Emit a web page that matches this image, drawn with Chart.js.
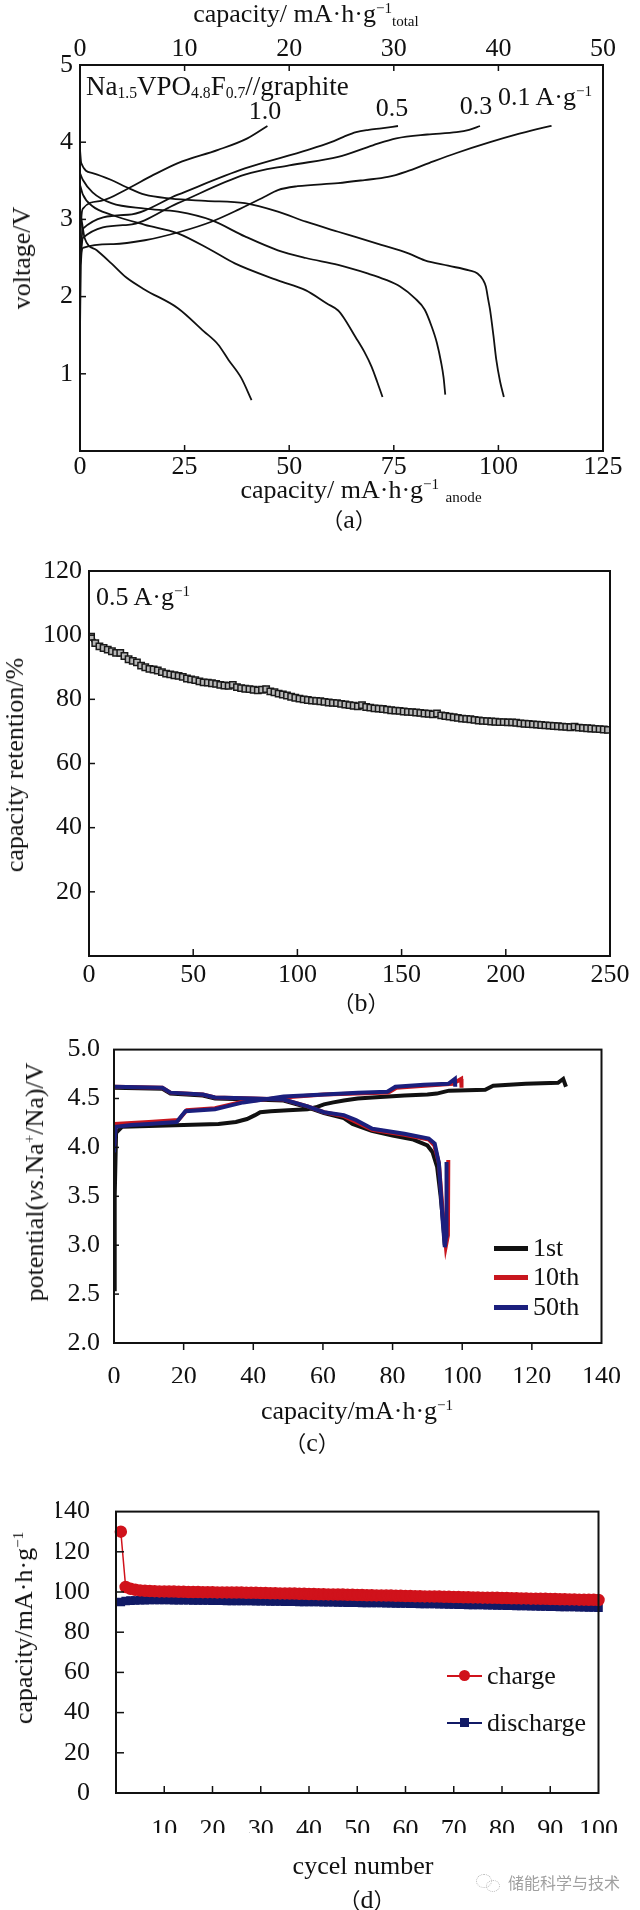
<!DOCTYPE html>
<html>
<head>
<meta charset="utf-8">
<script src="https://cdn.jsdelivr.net/npm/chart.js@4.4.1/dist/chart.umd.min.js"></script>
<style>
  body { margin: 0; background: #fff; }
  #page { position: relative; width: 640px; height: 1910px; overflow: hidden; background: #fff;
          font-family: 'Liberation Serif', 'Times New Roman', serif; color: #111; }
  .box { position: absolute; left: 0; width: 640px; }
  .t { position: absolute; white-space: nowrap; line-height: 1; font-size: 26px; transform: translate(-50%, -50%); }
  .tl { position: absolute; white-space: nowrap; line-height: 1; font-size: 26px; transform: translate(0, -50%); }
  .rot { transform: translate(-50%, -50%) rotate(-90deg); }
  sub { font-size: 58%; vertical-align: -0.25em; line-height: 0; }
  sup { font-size: 58%; vertical-align: 0.6em; line-height: 0; }
  .cn { font-family: 'Noto Sans CJK SC', sans-serif; font-size: 22px; }
  .leg { position: absolute; display: flex; align-items: center; white-space: nowrap; font-size: 26px; line-height: 1; transform: translate(0, -50%); }
  .swatch { position: relative; display: inline-block; width: 34px; margin-right: 5px; }
  .wm { position: absolute; left: 508px; top: 1882px; transform: translate(0, -50%); font-family: 'Noto Sans CJK SC', sans-serif;
        font-size: 16px; color: #a0a0a0; white-space: nowrap; }
</style>
</head>
<body>
<div id="page">
  <div class="box" style="top:0;height:530px"><canvas id="chartA"></canvas></div>
  <div class="box" style="top:540px;height:480px"><canvas id="chartB"></canvas></div>
  <div class="box" style="top:1020px;height:450px"><canvas id="chartC"></canvas></div>
  <div class="box" style="top:1470px;height:440px"><canvas id="chartD"></canvas></div>

  <!-- (a) texts -->
  <div class="t" style="left:306px;top:14px">capacity/ mA·h·g<sup>−1</sup><sub>total</sub></div>
  <div class="t rot" style="left:22px;top:258px">voltage/V</div>
  <div class="tl" style="left:86px;top:86px;font-size:27px">Na<sub>1.5</sub>VPO<sub>4.8</sub>F<sub>0.7</sub>//graphite</div>
  <div class="t" style="left:265px;top:111px">1.0</div>
  <div class="t" style="left:392px;top:108px">0.5</div>
  <div class="t" style="left:476px;top:106px">0.3</div>
  <div class="tl" style="left:498px;top:97px">0.1 A·g<sup>−1</sup></div>
  <div class="t" style="left:361px;top:490px">capacity/ mA·h·g<sup>−1</sup> <sub>anode</sub></div>
  <div class="t" style="left:349px;top:520px"><span class="cn">（</span>a<span class="cn">）</span></div>

  <!-- (b) texts -->
  <div class="t rot" style="left:15px;top:765px">capacity retention/%</div>
  <div class="tl" style="left:96px;top:597px">0.5 A·g<sup>−1</sup></div>
  <div class="t" style="left:361px;top:1003px"><span class="cn">（</span>b<span class="cn">）</span></div>

  <!-- (c) texts -->
  <div class="t rot" style="left:35px;top:1182px">potential(<i>vs</i>.Na<sup>+</sup>/Na)/V</div>
  <div class="t" style="left:357px;top:1411px">capacity/mA·h·g<sup>−1</sup></div>
  <div class="t" style="left:312px;top:1443px"><span class="cn">（</span>c<span class="cn">）</span></div>
  <div class="leg" style="left:494px;top:1248px"><span class="swatch" style="height:5px;background:#111"></span>1st</div>
  <div class="leg" style="left:494px;top:1277px"><span class="swatch" style="height:5px;background:#c8161e"></span>10th</div>
  <div class="leg" style="left:494px;top:1307px"><span class="swatch" style="height:5px;background:#1b1f7d"></span>50th</div>

  <!-- (d) texts -->
  <div class="t rot" style="left:24px;top:1628px">capacity/mA·h·g<sup>−1</sup></div>
  <div class="t" style="left:363px;top:1866px">cycel number</div>
  <div class="t" style="left:367px;top:1900px"><span class="cn">（</span>d<span class="cn">）</span></div>
  <div class="leg" style="left:447px;top:1676px">
    <span class="swatch" style="height:2px;background:#d0121b;width:35px">
      <span style="position:absolute;left:12px;top:-5px;width:11px;height:11px;border-radius:50%;background:#d0121b"></span>
    </span>charge</div>
  <div class="leg" style="left:447px;top:1723px">
    <span class="swatch" style="height:2px;background:#111a66;width:35px">
      <span style="position:absolute;left:13px;top:-4px;width:9px;height:9px;background:#111a66"></span>
    </span>discharge</div>
  <div style="position:absolute;left:476px;top:1874px;width:14px;height:12px;border:1.5px dotted #b8b8b8;border-radius:50%"></div>
  <div style="position:absolute;left:486px;top:1880px;width:12px;height:10px;border:1.5px dotted #b8b8b8;border-radius:50%"></div>
  <div class="wm">储能科学与技术</div>
</div>

<script>
// ---------- (a) full cell, rate test: [anode capacity, voltage] ----------
const charge10 = [[0,2.5],[0.3,3.0],[0.7,3.14],[5,3.24],[11.5,3.4],[17,3.56],[23.4,3.73],[33,3.9],[40,4.05],[44.8,4.21]];
const charge05 = [[0,2.45],[0.7,2.88],[11.5,3.06],[23.4,3.32],[39.4,3.66],[54.5,3.9],[60,4.0],[63,4.07],[66,4.13],[69,4.16],[72,4.18],[76,4.21]];
const charge03 = [[0,2.4],[0.7,2.76],[11.5,2.93],[23.4,3.21],[39.4,3.58],[50,3.7],[61.7,3.81],[70,3.96],[75.6,4.05],[83,4.1],[90,4.13],[93,4.16],[95.6,4.21]];
const charge01 = [[0,1.55],[0.2,2.4],[0.7,2.63],[8,2.68],[15.5,2.73],[24,2.84],[31.4,2.97],[38,3.13],[44,3.29],[47.3,3.38],[52,3.43],[61.7,3.47],[68,3.51],[73.6,3.55],[78,3.62],[83.4,3.73],[90,3.86],[98,4.0],[105,4.11],[110,4.18],[112.7,4.21]];
const discharge10 = [[0,3.1],[0.5,2.95],[1.1,2.76],[4,2.6],[7.5,2.43],[11,2.25],[15.5,2.09],[23.4,1.85],[29.6,1.55],[33,1.38],[35.5,1.18],[38.5,0.95],[41,0.66]];
const discharge05 = [[0,3.45],[0.7,3.32],[3,3.17],[7.5,3.06],[15.5,2.93],[23.4,2.82],[31.4,2.6],[37,2.43],[47.3,2.21],[54,2.08],[59,1.91],[61.7,1.82],[63,1.73],[65.8,1.48],[68,1.28],[69.7,1.09],[71,0.9],[72.3,0.7]];
const discharge03 = [[0,3.6],[0.7,3.51],[3,3.35],[7.5,3.21],[15.5,3.14],[23.4,3.1],[31.4,2.99],[39.4,2.78],[47.3,2.6],[54,2.5],[61.7,2.41],[68.7,2.3],[73,2.22],[76.5,2.13],[80,1.98],[82.4,1.83],[84,1.62],[85.3,1.4],[86.3,1.15],[86.9,0.95],[87.3,0.73]];
const discharge01 = [[0,3.9],[0.3,3.73],[3,3.6],[7.5,3.51],[11,3.42],[15.5,3.32],[21.8,3.27],[30,3.24],[39.4,3.21],[47.3,3.1],[54,2.97],[61.7,2.84],[66,2.77],[72,2.67],[78.5,2.56],[82.4,2.47],[88,2.4],[93,2.34],[95,2.3],[96.3,2.22],[97,2.13],[97.6,1.95],[98,1.83],[98.8,1.5],[99.5,1.18],[100.4,0.9],[101.3,0.7]];

// ---------- (b) capacity retention at 0.5 A/g (every second cycle) ----------
const retention = [
  99.5,97.5,96.5,96,95.5,95,94.5,94.5,93.5,92.5,92,91.5,90.5,90,89.5,89.3,89,88.5,88,87.8,
  87.5,87.3,87,86.5,86.2,86,85.6,85.3,85.2,85,84.8,84.5,84.3,84.2,84.5,83.8,83.5,83.3,83.2,83,
  82.8,83,83.2,82.5,82.2,81.8,81.5,81.2,80.8,80.5,80.2,80,79.8,79.6,79.5,79.4,79.2,79,78.9,78.8,
  78.6,78.4,78.2,78,77.8,78.2,77.6,77.4,77.2,77.1,77,76.8,76.6,76.5,76.4,76.2,76.1,76,75.9,75.8,
  75.6,75.5,75.3,75.6,75,74.8,74.6,74.4,74.2,74,73.9,73.8,73.6,73.4,73.3,73.2,73.1,73,72.9,72.9,
  72.8,72.8,72.7,72.5,72.4,72.3,72.2,72.1,72,71.9,71.8,71.7,71.6,71.5,71.4,71.3,71.5,71.2,71.1,71,
  70.9,70.8,70.7,70.6,70.5
];
const cyclesB = retention.map((_, i) => 1 + 2 * i);

// ---------- (c) cathode half cell: [capacity, potential] ----------
const charge1st = [[0,2.55],[0.2,3.5],[0.6,4.15],[2.3,4.21],[10,4.22],[20,4.23],[30,4.24],[35,4.26],[38.2,4.29],[40.5,4.33],[42,4.36],[45,4.37],[50,4.38],[55.6,4.39],[58,4.41],[60.3,4.44],[63,4.46],[66,4.48],[70,4.5],[74.2,4.51],[83.4,4.53],[90,4.54],[92.7,4.55],[95,4.57],[96.2,4.58],[106.6,4.59],[108.9,4.63],[118.2,4.65],[127.5,4.66],[129,4.7],[129.8,4.62]];
const charge10th = [[0,4.0],[0.5,4.24],[5,4.25],[10,4.26],[18.5,4.28],[20.9,4.38],[29,4.4],[32.4,4.43],[37.1,4.47],[43,4.49],[48.7,4.51],[60.3,4.54],[70,4.55],[78.8,4.56],[81.1,4.61],[89.2,4.63],[97.3,4.65],[99.7,4.7],[99.8,4.61]];
const charge50th = [[0,3.95],[0.5,4.21],[5,4.23],[10,4.24],[18,4.26],[20.5,4.37],[29,4.39],[32.4,4.42],[37.1,4.46],[43,4.49],[48.7,4.52],[60.3,4.54],[70,4.56],[78.5,4.57],[80.8,4.62],[89,4.64],[96,4.65],[97.9,4.7],[98,4.62]];
const discharge1st = [[0,4.61],[13.9,4.6],[16.2,4.55],[25.5,4.53],[29,4.5],[40,4.49],[48.7,4.48],[55.6,4.41],[60.3,4.35],[66,4.3],[68.5,4.24],[74,4.17],[80,4.12],[86,4.08],[90,4.02],[91.5,3.95],[92.8,3.8],[93.8,3.5],[94.6,3.2],[95,3.0]];
const discharge10th = [[0,4.62],[13.9,4.61],[16.2,4.56],[25.5,4.54],[29,4.51],[40,4.5],[48.7,4.49],[55.6,4.42],[60.3,4.36],[66,4.32],[69.5,4.26],[74.2,4.18],[83.4,4.13],[90.4,4.08],[92,4.02],[93.3,3.84],[94.5,3.3],[95.3,2.99],[95.9,3.1],[96,3.87]];
const discharge50th = [[0,4.62],[13.9,4.61],[16.2,4.56],[25.5,4.54],[29,4.51],[40,4.5],[48.7,4.49],[55.6,4.42],[60.3,4.36],[66,4.33],[69.5,4.28],[74.2,4.19],[83.4,4.14],[90.4,4.09],[92.1,4.04],[93.3,3.84],[94.4,3.24],[95,2.98],[95.4,3.1],[95.5,3.85]];

// ---------- (d) cycling, cycles 1..100 ----------
const chargeCap = [
  130,102.5,101.6,101.1,100.8,100.6,100.5,100.4,100.3,100.3,
  100.2,100.2,100.1,100.1,100.0,100.0,100.0,99.9,99.9,99.9,
  99.8,99.8,99.8,99.7,99.7,99.7,99.6,99.6,99.6,99.5,
  99.5,99.4,99.4,99.3,99.3,99.2,99.2,99.1,99.1,99.0,
  99.0,98.9,98.9,98.8,98.8,98.7,98.7,98.6,98.6,98.5,
  98.5,98.4,98.4,98.3,98.3,98.2,98.2,98.1,98.1,98.0,
  98.0,97.9,97.9,97.8,97.8,97.7,97.7,97.6,97.6,97.5,
  97.5,97.4,97.4,97.3,97.3,97.2,97.2,97.1,97.1,97.0,
  97.0,96.9,96.9,96.8,96.8,96.7,96.7,96.6,96.6,96.5,
  96.5,96.4,96.4,96.3,96.3,96.2,96.2,96.1,96.1,96.0
];
const dischargeCap = [
  95.0,95.5,95.7,95.8,95.9,95.9,96.0,96.0,96.0,96.0,
  96.0,95.9,95.9,95.9,95.9,95.8,95.8,95.8,95.8,95.7,
  95.7,95.7,95.6,95.6,95.6,95.5,95.5,95.5,95.4,95.4,
  95.4,95.3,95.3,95.3,95.2,95.2,95.2,95.1,95.1,95.0,
  95.0,95.0,94.9,94.9,94.9,94.8,94.8,94.7,94.7,94.7,
  94.6,94.6,94.5,94.5,94.5,94.4,94.4,94.3,94.3,94.3,
  94.2,94.2,94.1,94.1,94.0,94.0,93.9,93.9,93.8,93.8,
  93.7,93.7,93.6,93.6,93.5,93.5,93.4,93.4,93.3,93.3,
  93.2,93.2,93.1,93.0,93.0,92.9,92.9,92.8,92.8,92.7,
  92.7,92.6,92.6,92.5,92.5,92.4,92.4,92.3,92.3,92.2
];
const cyclesD = chargeCap.map((_, i) => i + 1);

const BLACK = '#111111', RED = '#c8161e', BLUE = '#1b1f7d';
const RED_D = '#d0121b', NAVY_D = '#111a66';
const SERIF = "'Liberation Serif', 'Times New Roman', serif";

Chart.defaults.font.family = SERIF;
Chart.defaults.font.size = 26;
Chart.defaults.color = '#111';
Chart.defaults.animation = false;
Chart.defaults.plugins.legend.display = false;
Chart.defaults.plugins.tooltip.enabled = false;

// box frame + tick marks drawn from the scales' own ticks
const frameTicks = {
  id: 'frameTicks',
  afterDraw(chart, args, opts) {
    const { ctx, chartArea: a, scales } = chart;
    ctx.save();
    ctx.strokeStyle = '#111';
    ctx.lineWidth = 1.5;
    Object.entries(opts.ticks || {}).forEach(([id, len]) => {
      const s = scales[id];
      s.ticks.forEach((t, i) => {
        if (t.value === s.min || t.value === s.max) return;
        const p = s.getPixelForTick(i);
        ctx.beginPath();
        if (s.position === 'left') { ctx.moveTo(a.left, p); ctx.lineTo(a.left + len, p); }
        else if (s.position === 'top') { ctx.moveTo(p, a.top); ctx.lineTo(p, a.top + len); }
        else { ctx.moveTo(p, a.bottom); ctx.lineTo(p, a.bottom - len); }
        ctx.stroke();
      });
    });
    ctx.lineWidth = opts.frameWidth || 2;
    ctx.strokeRect(a.left, a.top, a.right - a.left, a.bottom - a.top);
    ctx.restore();
  }
};

function axis(position, min, max, step, padding, callback) {
  const ticks = { stepSize: step, padding: padding, color: '#111', font: { family: SERIF, size: 26 } };
  if (callback) ticks.callback = callback;
  return {
    type: 'linear', position, min, max,
    grid: { display: false, drawTicks: false },
    border: { display: false },
    ticks,
    afterFit: s => { if (position === 'left') s.width = 60; else s.height = 40; }
  };
}

// place the plot box at page coords [left, top, right, bottom]
function padFor(boxTop, boxH, area, hasTopAxis) {
  const [l, t, r, b] = area;
  return {
    left: l - 60,
    right: 640 - r,
    top: (t - boxTop) - (hasTopAxis ? 40 : 0),
    bottom: (boxTop + boxH) - b - 40
  };
}

const line = (data, color, width) => ({
  data: data.map(([x, y]) => ({ x, y })),
  borderColor: color, borderWidth: width, pointRadius: 0, fill: false
});

const hideZero = v => (v === 0 ? '' : v);

// (a)
new Chart(document.getElementById('chartA'), {
  type: 'line',
  data: {
    datasets: [charge10, charge05, charge03, charge01, discharge10, discharge05, discharge03, discharge01]
      .map(d => Object.assign(line(d, BLACK, 1.8), { cubicInterpolationMode: 'monotone' }))
  },
  options: {
    responsive: true, maintainAspectRatio: false,
    layout: { padding: padFor(0, 530, [80, 65, 603, 451], true) },
    scales: {
      x: axis('bottom', 0, 125, 25, 1),
      x2: axis('top', 0, 50, 10, 0),
      y: axis('left', 0, 5, 1, 7, hideZero)
    },
    plugins: { frameTicks: { ticks: { x: 6, x2: 6, y: 6 } } }
  },
  plugins: [frameTicks]
});

// (b)
new Chart(document.getElementById('chartB'), {
  type: 'line',
  data: {
    datasets: [{
      data: cyclesB.map((c, i) => ({ x: c, y: retention[i] })),
      borderColor: BLACK, borderWidth: 5,
      pointStyle: 'rect', pointRadius: 4.5,
      pointBackgroundColor: '#b8b8b8', pointBorderColor: '#1a1a1a', pointBorderWidth: 1.5
    }]
  },
  options: {
    responsive: true, maintainAspectRatio: false,
    layout: { padding: padFor(540, 480, [89, 571, 610, 956], false) },
    scales: {
      x: axis('bottom', 0, 250, 50, 4),
      y: axis('left', 0, 120, 20, 7, hideZero)
    },
    plugins: { frameTicks: { ticks: { x: 7, y: 6 } } }
  },
  plugins: [frameTicks]
});

// (c)
new Chart(document.getElementById('chartC'), {
  type: 'line',
  data: {
    datasets: [
      line(discharge50th, BLUE, 4), line(charge50th, BLUE, 4),
      line(discharge10th, RED, 4), line(charge10th, RED, 4),
      line(discharge1st, BLACK, 4), line(charge1st, BLACK, 4)
    ]
  },
  options: {
    responsive: true, maintainAspectRatio: false,
    layout: { padding: padFor(1020, 450, [114, 1045, 607, 1343], false) },
    scales: {
      x: axis('bottom', 0, 140, 20, 19),
      y: axis('left', 2, 5, 0.5, 14, v => v.toFixed(1))
    },
    plugins: { frameTicks: { ticks: { x: -7, y: 5 } } }
  },
  plugins: [frameTicks]
});

// (d)
new Chart(document.getElementById('chartD'), {
  type: 'line',
  data: {
    datasets: [
      {
        data: cyclesD.map((c, i) => ({ x: c, y: chargeCap[i] })),
        borderColor: RED_D, borderWidth: 1.5, pointStyle: 'circle', pointRadius: 5.5,
        pointBackgroundColor: RED_D, pointBorderColor: RED_D, clip: false
      },
      {
        data: cyclesD.map((c, i) => ({ x: c, y: dischargeCap[i] })),
        borderColor: NAVY_D, borderWidth: 1.5, pointStyle: 'rect', pointRadius: 5,
        pointBackgroundColor: NAVY_D, pointBorderColor: NAVY_D, clip: false
      }
    ]
  },
  options: {
    responsive: true, maintainAspectRatio: false,
    layout: { padding: padFor(1470, 440, [116, 1483, 621, 1793], false) },
    scales: {
      x: axis('bottom', 0, 100, 10, 22, hideZero),
      y: axis('left', 0, 140, 20, 26)
    },
    plugins: { frameTicks: { ticks: { x: 7, y: 8 } } }
  },
  plugins: [frameTicks]
});
</script>
</body>
</html>
